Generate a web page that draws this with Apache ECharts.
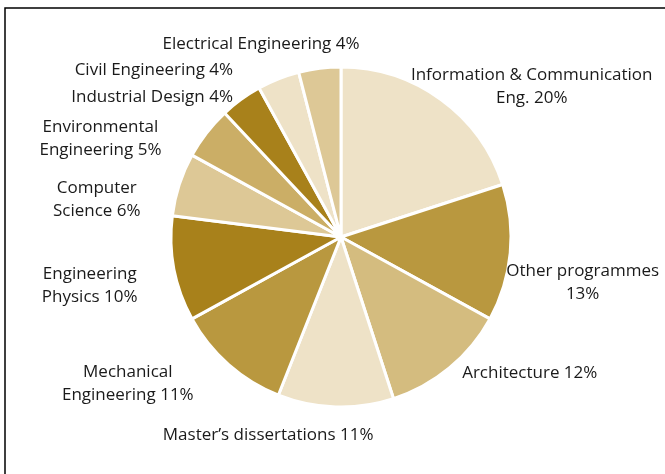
<!DOCTYPE html>
<html><head><meta charset="utf-8">
<script src="https://cdn.jsdelivr.net/npm/echarts@6/dist/echarts.min.js"></script>
<style>html,body{margin:0;padding:0;background:#fff}#c{width:665px;height:474px}</style>
</head><body><div id="c"></div>
<script>
var categories = ['Information & Communication\nEng.', 'Other programmes\n', 'Architecture', "Master\u2019s dissertations", 'Mechanical\nEngineering', 'Engineering\nPhysics', 'Computer\nScience', 'Environmental\nEngineering', 'Industrial Design', 'Civil Engineering', 'Electrical Engineering'];
var values = [20, 13, 12, 11, 11, 10, 6, 5, 4, 4, 4];
var colors = ['#EEE2C7', '#B9983F', '#D4BC7F', '#EEE2C7', '#B9983F', '#A8811B', '#DDC896', '#CBAE66', '#A8811B', '#EEE2C7', '#DDC896'];
// label anchor: [angle clockwise from top (deg), distance from pie centre (px)]
var labelAt = [[51.7,243],[100.8,246],[125.9,233],[200.2,211],[235.4,259],[259,256],[278.6,247],[292.3,260],[306.5,235],[311.8,251],[337.5,209]];

var CX = 341, CY = 237, R = 170;
var chart = echarts.init(document.getElementById('c'));
chart.setOption({
  animation: false,
  graphic: [{type:'rect', shape:{x:5, y:8, width:720, height:520}, style:{fill:'none', stroke:'#000', lineWidth:1.5}, z:-1}],
  series: [{
    type: 'pie',
    center: [CX, CY],
    radius: R,
    startAngle: 90,
    data: categories.map(function(n,i){ return {name:n, value:values[i], itemStyle:{color:colors[i]}}; }),
    itemStyle: {borderColor:'#fff', borderWidth:3},
    label: {
      show: true, position: 'outside', color:'#1a1a1a', fontFamily:'Open Sans', fontSize:17, lineHeight:23,
      overflow:'none', bleedMargin: 0,
      formatter: function(p){ var n = p.name; if (n.slice(-1) === '\n') return n + p.value + '%'; return n + ' ' + p.value + '%'; }
    },
    labelLine: {show:false},
    labelLayout: function(p){
      var a = labelAt[p.dataIndex][0]*Math.PI/180, d = labelAt[p.dataIndex][1];
      return {x: CX + d*Math.sin(a), y: CY - d*Math.cos(a), align:'center', verticalAlign:'middle', width: 400};
    },
    emphasis: {disabled:true}
  }]
});
</script></body></html>
